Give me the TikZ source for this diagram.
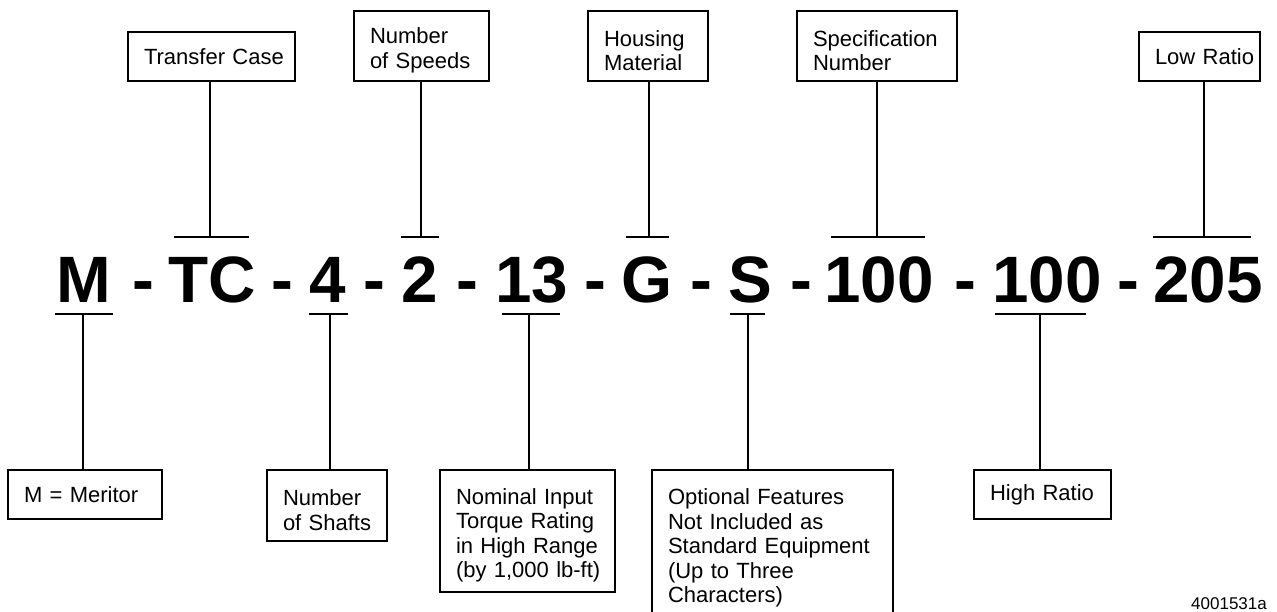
\documentclass[tikz,border=0pt]{standalone}
\usepackage{fontspec}
\setmainfont{Liberation Sans}
\newcommand\codefont{\fontsize{65.6}{70}\selectfont\bfseries}
\newcommand\lblfont{\fontsize{22}{24.5}\selectfont}
\newcommand\firstln{\rule{0pt}{25pt}}
\begin{document}
\begin{tikzpicture}[x=1pt,y=-1pt,
  tok/.style={font=\codefont, inner sep=0pt, anchor=base},
  lbl/.style={draw, line width=2.6pt, font=\lblfont, align=left, inner xsep=16pt, inner ysep=0pt, anchor=center},
  conn/.style={line width=2.6pt}]
\useasboundingbox (0,0) rectangle (1277,612);
\clip (0,0) rectangle (1277,612);

% code tokens
\node[tok] (tM)   at (83.5,302) {M};
\node[tok] (d1)   at (143,302) {-};
\node[tok] (tTC)  at (212,302) {TC};
\node[tok] (d2)   at (282,302) {-};
\node[tok] (t4)   at (328,302) {4};
\node[tok] (d3)   at (374,302) {-};
\node[tok] (t2)   at (420,302) {2};
\node[tok] (d4)   at (467,302) {-};
\node[tok] (t13)  at (532,302) {13};
\node[tok] (d5)   at (595,302) {-};
\node[tok] (tG)   at (647,302) {G};
\node[tok] (d6)   at (701,302) {-};
\node[tok] (tS)   at (750,302) {S};
\node[tok] (d7)   at (801,302) {-};
\node[tok] (tA)   at (879,302) {100};
\node[tok] (d8)   at (965,302) {-};
\node[tok] (tB)   at (1047,302) {100};
\node[tok] (d9)   at (1128,302) {-};
\node[tok] (tC)   at (1208,302) {205};

% top labels
\node[lbl, text width=135pt, minimum height=49pt] (bTC)   at (211.5,56.5) {\mbox{Transfer Case}};
\node[lbl, text width=103pt, minimum height=70pt] (bSpd)  at (421.5,46) {\firstln\mbox{Number}\\\mbox{of Speeds}};
\node[lbl, text width=88pt,  minimum height=70pt] (bHou)  at (648,46) {\firstln\mbox{Housing}\\\mbox{Material}};
\node[lbl, text width=128pt, minimum height=70pt] (bSpec) at (877,46) {\firstln\mbox{Specification}\\\mbox{Number}};
\node[lbl, text width=89pt,  minimum height=49pt] (bLow)  at (1199.5,56.5) {\mbox{Low Ratio}};

% bottom labels
\node[lbl, text width=122pt, minimum height=49pt]  (bMer)  at (85,494.5) {\mbox{M = Meritor}};
\node[lbl, text width=88pt,  minimum height=71pt]  (bSha)  at (327,505.5) {\firstln\mbox{Number}\\\mbox{of Shafts}};
\node[lbl, text width=143pt, minimum height=122pt] (bNom)  at (527.5,531) {\firstln\mbox{Nominal Input}\\\mbox{Torque Rating}\\\mbox{in High Range}\\\mbox{(by 1,000 lb-ft)}};
\node[lbl, text width=209pt, minimum height=147pt] (bOpt)  at (772.5,543.5) {\firstln\mbox{Optional Features}\\\mbox{Not Included as}\\\mbox{Standard Equipment}\\\mbox{(Up to Three}\\\mbox{Characters)}};
\node[lbl, text width=105pt, minimum height=49pt]  (bHigh) at (1042.5,494.5) {\mbox{High Ratio}};

% bar centres
\coordinate (uTC) at (210,237);
\coordinate (u2)  at (421,237);
\coordinate (uG)  at (649,237);
\coordinate (uA)  at (877,237);
\coordinate (uC)  at (1204,237);
\coordinate (lM)  at (83,314);
\coordinate (l4)  at (330,314);
\coordinate (l13) at (529,314);
\coordinate (lS)  at (748,314);
\coordinate (lB)  at (1040,314);

% bars
\draw[conn] (174,237) -- (249,237);
\draw[conn] (401,237) -- (439,237);
\draw[conn] (626,237) -- (669,237);
\draw[conn] (831,237) -- (925,237);
\draw[conn] (1153,237) -- (1251,237);
\draw[conn] (55,314) -- (113,314);
\draw[conn] (309,314) -- (348,314);
\draw[conn] (502,314) -- (560,314);
\draw[conn] (730,314) -- (765,314);
\draw[conn] (995,314) -- (1086,314);

% connectors
\draw[conn] (bTC.south -| uTC) -- (uTC);
\draw[conn] (bSpd.south -| u2) -- (u2);
\draw[conn] (bHou.south -| uG) -- (uG);
\draw[conn] (bSpec.south -| uA) -- (uA);
\draw[conn] (bLow.south -| uC) -- (uC);
\draw[conn] (lM) -- (lM |- bMer.north);
\draw[conn] (l4) -- (l4 |- bSha.north);
\draw[conn] (l13) -- (l13 |- bNom.north);
\draw[conn] (lS) -- (lS |- bOpt.north);
\draw[conn] (lB) -- (lB |- bHigh.north);

\node[font=\fontsize{17}{20}\selectfont, anchor=base west, inner sep=0pt] (fig) at (1191,609) {4001531a};
\end{tikzpicture}
\end{document}
